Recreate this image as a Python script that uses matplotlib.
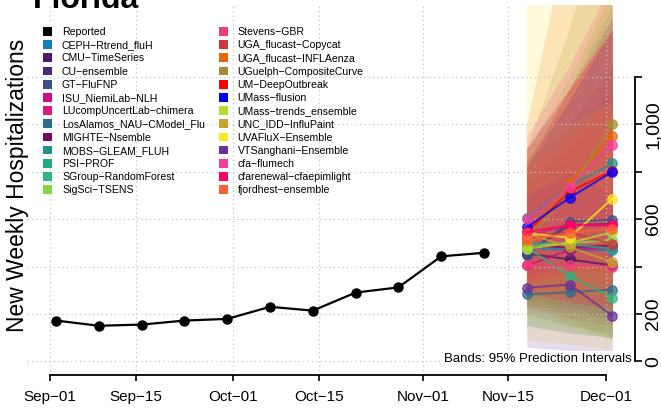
import pandas as pd
import matplotlib
matplotlib.use("Agg")
import matplotlib.pyplot as plt
import matplotlib.dates as mdates
from matplotlib.patches import Patch

plt.rcParams['font.family'] = ['Liberation Sans', 'DejaVu Sans']

# reported weekly hospitalizations
reported_dates = pd.to_datetime(["2025-09-02", "2025-09-09", "2025-09-16", "2025-09-23",
                                 "2025-09-30", "2025-10-07", "2025-10-14", "2025-10-21",
                                 "2025-10-28", "2025-11-04", "2025-11-11"])
reported_vals = [172, 150, 155, 172, 179, 230, 214, 290, 312, 443, 458]

# forecast targets
fc_dates = pd.to_datetime(["2025-11-18", "2025-11-25", "2025-12-02"])

models = ["CEPH\u2212Rtrend_fluH", "CMU\u2212TimeSeries", "CU\u2212ensemble", "GT\u2212FluFNP",
          "ISU_NiemiLab\u2212NLH", "LUcompUncertLab\u2212chimera", "LosAlamos_NAU\u2212CModel_Flu",
          "MIGHTE\u2212Nsemble", "MOBS\u2212GLEAM_FLUH", "PSI\u2212PROF", "SGroup\u2212RandomForest",
          "SigSci\u2212TSENS", "Stevens\u2212GBR", "UGA_flucast\u2212Copycat", "UGA_flucast\u2212INFLAenza",
          "UGuelph\u2212CompositeCurve", "UM\u2212DeepOutbreak", "UMass\u2212flusion",
          "UMass\u2212trends_ensemble", "UNC_IDD\u2212InfluPaint", "UVAFluX\u2212Ensemble",
          "VTSanghani\u2212Ensemble", "cfa\u2212flumech", "cfarenewal\u2212cfaepimlight",
          "fjordhest\u2212ensemble"]

colors = ["#1380B8", "#4B176D", "#472A7A", "#3C4F8A", "#CC0C8C", "#E0187E", "#2E6C8E",
          "#780C5A", "#21918C", "#22A884", "#2FB47C", "#85D54A", "#F23D76", "#CC3838",
          "#E8650A", "#A88B32", "#FF0000", "#0000FF", "#B4DE2C", "#C8A22A", "#FDE725",
          "#6A3098", "#F83C9E", "#FF0066", "#FF6037"]

median = [[480, 470, 470], [455, 430, 405], [460, 575, 580], [450, 590, 598],
          [405, 470, 480], [530, 575, 575], [282, 292, 302], [490, 480, 490],
          [605, 740, 835], [500, 495, 475], [480, 362, 268], [485, 500, 510],
          [405, 405, 400], [520, 545, 495], [520, 753, 950], [500, 720, 1000],
          [545, 715, 805], [565, 690, 800], [475, 500, 545], [540, 482, 419],
          [540, 522, 687], [310, 324, 193], [600, 736, 915], [545, 575, 574],
          [510, 541, 560]]

lower95 = [[230, 200, 170], [260, 220, 180], [200, 150, 120], [280, 280, 240],
           [240, 210, 180], [300, 260, 230], [150, 120, 100], [270, 230, 190],
           [380, 420, 430], [300, 250, 200], [250, 180, 100], [150, 120, 100],
           [220, 180, 150], [330, 280, 230], [250, 300, 350], [230, 250, 300],
           [330, 380, 380], [360, 400, 400], [180, 140, 100], [250, 160, 90],
           [90, 70, 50], [60, 45, 35], [330, 380, 420], [290, 250, 220],
           [300, 260, 240]]

upper95 = [[900, 1150, 1500], [760, 950, 1150], [830, 1150, 1450], [760, 1000, 1250],
           [700, 900, 1100], [850, 1000, 1200], [600, 700, 800], [820, 1100, 1450],
           [850, 1100, 1400], [750, 850, 950], [800, 700, 650], [880, 1200, 1550],
           [700, 800, 900], [750, 900, 1000], [990, 1830, 2600], [890, 1400, 2000],
           [830, 1150, 1400], [820, 1100, 1400], [840, 1150, 1600], [900, 1000, 1100],
           [1550, 2200, 2800], [700, 800, 700], [950, 1250, 1600], [900, 1150, 1400],
           [800, 950, 1100]]

tick_dates = pd.to_datetime(["2025-09-01", "2025-09-15", "2025-10-01", "2025-10-15",
                             "2025-11-01", "2025-11-15", "2025-12-01"])
tick_labels = ["Sep\u221201", "Sep\u221215", "Oct\u221201", "Oct\u221215",
               "Nov\u221201", "Nov\u221215", "Dec\u221201"]
y_ticks = [0, 200, 400, 600, 800, 1000, 1200]
y_labels = ["0", "200", "", "600", "", "1,000", ""]

fig = plt.figure(figsize=(6.61, 4.12), dpi=100)
ax = fig.add_axes([0.0415, 0.0898, 0.919, 0.898])

# prediction bands
for c, lo, hi in zip(colors, lower95, upper95):
    ax.fill_between(fc_dates, lo, hi, color=c, alpha=0.17, lw=0, zorder=1)

# dotted grid on top of the bands
for d in tick_dates:
    ax.axvline(d, color="#C4C4C4", lw=0.9, ls=(0, (1, 2.5)), zorder=1.5)
for v in y_ticks:
    ax.axhline(v, color="#C4C4C4", lw=0.9, ls=(0, (1, 2.5)), zorder=1.5)

ax.plot(reported_dates, reported_vals, color="black", lw=1.6, marker="o",
        markersize=6.5, zorder=4)

for c, m in zip(colors, median):
    ax.plot(fc_dates, m, color=c, lw=1.5, marker="o", markersize=6.8,
            alpha=0.75, zorder=3)

x0 = pd.Timestamp("2025-09-01") - pd.Timedelta(days=3.7)
x1 = pd.Timestamp("2025-12-02") + pd.Timedelta(days=3.7)
ax.set_xlim(x0, x1)
ax.set_ylim(-57.8, 1503.8)

ax.set_xticks(tick_dates)
ax.set_xticklabels(tick_labels, fontsize=11)
ax.yaxis.tick_right()
ax.set_yticks(y_ticks)
ax.set_yticklabels(y_labels, fontsize=14, rotation=90, va="center")
ax.tick_params(axis="x", direction="out", length=4, width=1.2, pad=7)
ax.tick_params(axis="y", direction="out", length=5, width=1.2, pad=2.5)

for s in ["left", "top"]:
    ax.spines[s].set_visible(False)
ax.spines["bottom"].set_bounds(mdates.date2num(tick_dates[0]), mdates.date2num(tick_dates[-1]))
ax.spines["right"].set_bounds(0, 1200)
ax.spines["bottom"].set_linewidth(1.3)
ax.spines["right"].set_linewidth(1.3)

ax.text(0.995, 0.043, "Bands: 95% Prediction Intervals", transform=ax.transAxes,
        ha="right", va="center", fontsize=9.5,
        bbox=dict(facecolor="white", edgecolor="none", pad=1.5), zorder=6)

handles = [Patch(facecolor="black", edgecolor="none", label="Reported")]
handles += [Patch(facecolor=c, edgecolor="none", label=m) for c, m in zip(colors, models)]
fig.legend(handles=handles, loc="upper left", bbox_to_anchor=(43 / 661, 1 - 27 / 412),
           ncol=2, frameon=False, fontsize=7.6, borderpad=0, borderaxespad=0,
           handlelength=0.85, handleheight=0.9, handletextpad=0.95,
           labelspacing=0.3, columnspacing=1.3)

fig.text(33 / 661, 1 - 7.5 / 412, "Florida", fontsize=23, fontweight="bold",
         va="baseline", ha="left")
fig.text(18 / 661, 1 - 185 / 412, "New Weekly Hospitalizations", fontsize=16.5,
         rotation=90, va="center", ha="center")

fig.savefig("out.png", dpi=100)
